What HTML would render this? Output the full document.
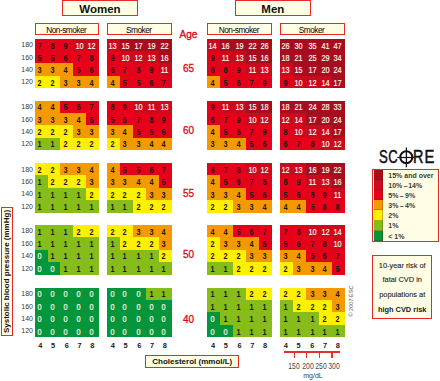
<!DOCTYPE html>
<html><head><meta charset="utf-8">
<style>
html,body{margin:0;padding:0;background:#fff;}
body{width:440px;height:381px;position:relative;overflow:hidden;font-family:"Liberation Sans",sans-serif;}
.c{position:absolute;}
.t{position:absolute;width:12.92px;height:12.35px;line-height:12.35px;text-align:center;font-weight:bold;font-size:8.3px;letter-spacing:-0.2px;transform:scaleX(0.88);}
.bp{position:absolute;left:19px;width:14px;text-align:right;height:12.35px;line-height:12.35px;font-size:7px;color:#3a3a3a;}
.age{position:absolute;left:178px;width:21px;text-align:center;font-size:10px;color:#e3061b;line-height:12px;-webkit-text-stroke:0.3px #e3061b;}
.ch{position:absolute;top:340.8px;width:12.92px;text-align:center;font-size:7.4px;font-weight:bold;color:#1a1a1a;line-height:10px;}
.box{position:absolute;border:1.3px solid #e92a24;background:#fffde3;box-sizing:border-box;}
.hdr{font-weight:bold;font-size:11.5px;color:#111;text-align:center;}
.sub{font-size:8.3px;color:#000;text-align:center;letter-spacing:-0.5px;padding-top:1.0px;padding-right:1.4px;}

.ylab{position:absolute;left:7px;top:271px;width:0;height:0;}
.ylab{position:absolute;left:-56.5px;top:265.5px;width:124px;height:11px;line-height:11px;text-align:center;transform:rotate(-90deg);font-size:8px;font-weight:bold;color:#111;white-space:nowrap;}
.chol{position:absolute;left:145.2px;top:356.4px;width:94.2px;height:12.4px;line-height:12.4px;text-align:center;font-size:8px;font-weight:bold;color:#111;white-space:nowrap;}
.tick{position:absolute;top:352px;width:1.3px;height:5.5px;background:#e8302c;}
.mg{position:absolute;top:361.4px;width:20px;text-align:center;font-size:8.3px;color:#444;line-height:10px;transform:scaleX(0.82);}
.mgdl{position:absolute;left:298px;top:370.6px;width:30px;text-align:center;font-size:8px;color:#444;line-height:10px;transform:scaleX(0.88);}
.copy{position:absolute;left:331px;top:298.4px;width:40px;height:6px;line-height:6px;text-align:center;font-size:5.6px;color:#555;transform:rotate(-90deg);white-space:nowrap;}
.score{position:absolute;left:378px;top:146px;font-size:16.5px;line-height:20px;color:#111;letter-spacing:-0.8px;white-space:nowrap;}
.sw{position:absolute;left:373.6px;width:9.8px;height:10.4px;box-shadow:inset 0 -0.6px 0 rgba(90,20,0,0.45),inset -0.6px 0 0 rgba(90,20,0,0.45);}
.lg{position:absolute;left:388.3px;height:10.1px;line-height:10.1px;font-size:7px;font-weight:bold;color:#3a3a3a;white-space:nowrap;padding-top:1px;}
.info b{-webkit-text-stroke:0;}
.info{font-size:7.4px;line-height:14.7px;color:#1a1a1a;-webkit-text-stroke:0.1px #1a1a1a;text-align:center;padding-top:2.6px;white-space:nowrap;}
</style></head><body>
<div class="box hdr" style="left:62px;top:0.3px;width:76px;height:15.4px;line-height:16.4px;">Women</div>
<div class="box hdr" style="left:234.8px;top:0.3px;width:76px;height:15.4px;line-height:16.4px;">Men</div>
<div class="box sub" style="left:34.8px;top:23.0px;width:64.3px;height:12.3px;line-height:10px;">Non-smoker</div>
<div class="box sub" style="left:107.2px;top:23.0px;width:64.6px;height:12.3px;line-height:10px;">Smoker</div>
<div class="box sub" style="left:207.3px;top:23.0px;width:64.5px;height:12.3px;line-height:10px;">Non-smoker</div>
<div class="box sub" style="left:280.0px;top:23.0px;width:64.6px;height:12.3px;line-height:10px;">Smoker</div>
<div class="age" style="top:28.8px;font-size:10px;-webkit-text-stroke:0.35px #e2041b;">Age</div>
<div class="c" style="left:34.60px;top:38.70px;width:13.22px;height:12.65px;background:#e6011b"></div>
<div class="c" style="left:47.52px;top:38.70px;width:13.22px;height:12.65px;background:#e6011b"></div>
<div class="c" style="left:60.44px;top:38.70px;width:13.22px;height:12.65px;background:#e6011b"></div>
<div class="c" style="left:73.36px;top:38.70px;width:13.22px;height:12.65px;background:#cb0a1e"></div>
<div class="c" style="left:86.28px;top:38.70px;width:12.92px;height:12.65px;background:#cb0a1e"></div>
<div class="c" style="left:34.60px;top:51.05px;width:13.22px;height:12.65px;background:#e6011b"></div>
<div class="c" style="left:47.52px;top:51.05px;width:13.22px;height:12.65px;background:#e6011b"></div>
<div class="c" style="left:60.44px;top:51.05px;width:13.22px;height:12.65px;background:#e6011b"></div>
<div class="c" style="left:73.36px;top:51.05px;width:13.22px;height:12.65px;background:#e6011b"></div>
<div class="c" style="left:86.28px;top:51.05px;width:12.92px;height:12.65px;background:#e6011b"></div>
<div class="c" style="left:34.60px;top:63.40px;width:13.22px;height:12.65px;background:#f59900"></div>
<div class="c" style="left:47.52px;top:63.40px;width:13.22px;height:12.65px;background:#f59900"></div>
<div class="c" style="left:60.44px;top:63.40px;width:13.22px;height:12.65px;background:#f59900"></div>
<div class="c" style="left:73.36px;top:63.40px;width:13.22px;height:12.65px;background:#e6011b"></div>
<div class="c" style="left:86.28px;top:63.40px;width:12.92px;height:12.65px;background:#e6011b"></div>
<div class="c" style="left:34.60px;top:75.75px;width:13.22px;height:12.35px;background:#fff000"></div>
<div class="c" style="left:47.52px;top:75.75px;width:13.22px;height:12.35px;background:#fff000"></div>
<div class="c" style="left:60.44px;top:75.75px;width:13.22px;height:12.35px;background:#f59900"></div>
<div class="c" style="left:73.36px;top:75.75px;width:13.22px;height:12.35px;background:#f59900"></div>
<div class="c" style="left:86.28px;top:75.75px;width:12.92px;height:12.35px;background:#f59900"></div>
<div class="t" style="left:33.00px;top:39.50px;color:#1a1a1a">7</div>
<div class="t" style="left:45.72px;top:39.50px;color:#1a1a1a">8</div>
<div class="t" style="left:59.44px;top:39.50px;color:#1a1a1a">9</div>
<div class="t" style="left:72.76px;top:39.50px;color:#fff8f0;font-weight:normal;-webkit-text-stroke:0.15px #fff8f0">10</div>
<div class="t" style="left:85.48px;top:39.50px;color:#fff8f0;font-weight:normal;-webkit-text-stroke:0.15px #fff8f0">12</div>
<div class="t" style="left:33.00px;top:51.85px;color:#1a1a1a">5</div>
<div class="t" style="left:45.72px;top:51.85px;color:#1a1a1a">5</div>
<div class="t" style="left:59.44px;top:51.85px;color:#1a1a1a">6</div>
<div class="t" style="left:72.26px;top:51.85px;color:#1a1a1a">7</div>
<div class="t" style="left:84.98px;top:51.85px;color:#1a1a1a">8</div>
<div class="t" style="left:33.00px;top:64.20px;color:#1a1a1a">3</div>
<div class="t" style="left:45.72px;top:64.20px;color:#1a1a1a">3</div>
<div class="t" style="left:59.44px;top:64.20px;color:#1a1a1a">4</div>
<div class="t" style="left:72.26px;top:64.20px;color:#1a1a1a">5</div>
<div class="t" style="left:84.98px;top:64.20px;color:#1a1a1a">6</div>
<div class="t" style="left:33.00px;top:76.55px;color:#1a1a1a">2</div>
<div class="t" style="left:45.72px;top:76.55px;color:#1a1a1a">2</div>
<div class="t" style="left:59.44px;top:76.55px;color:#1a1a1a">3</div>
<div class="t" style="left:72.26px;top:76.55px;color:#1a1a1a">3</div>
<div class="t" style="left:84.98px;top:76.55px;color:#1a1a1a">4</div>
<div class="c" style="left:107.10px;top:38.70px;width:13.22px;height:12.65px;background:#cb0a1e"></div>
<div class="c" style="left:120.02px;top:38.70px;width:13.22px;height:12.65px;background:#a60e1f"></div>
<div class="c" style="left:132.94px;top:38.70px;width:13.22px;height:12.65px;background:#a60e1f"></div>
<div class="c" style="left:145.86px;top:38.70px;width:13.22px;height:12.65px;background:#a60e1f"></div>
<div class="c" style="left:158.78px;top:38.70px;width:12.92px;height:12.65px;background:#a60e1f"></div>
<div class="c" style="left:107.10px;top:51.05px;width:13.22px;height:12.65px;background:#e6011b"></div>
<div class="c" style="left:120.02px;top:51.05px;width:13.22px;height:12.65px;background:#cb0a1e"></div>
<div class="c" style="left:132.94px;top:51.05px;width:13.22px;height:12.65px;background:#cb0a1e"></div>
<div class="c" style="left:145.86px;top:51.05px;width:13.22px;height:12.65px;background:#cb0a1e"></div>
<div class="c" style="left:158.78px;top:51.05px;width:12.92px;height:12.65px;background:#a60e1f"></div>
<div class="c" style="left:107.10px;top:63.40px;width:13.22px;height:12.65px;background:#e6011b"></div>
<div class="c" style="left:120.02px;top:63.40px;width:13.22px;height:12.65px;background:#e6011b"></div>
<div class="c" style="left:132.94px;top:63.40px;width:13.22px;height:12.65px;background:#e6011b"></div>
<div class="c" style="left:145.86px;top:63.40px;width:13.22px;height:12.65px;background:#e6011b"></div>
<div class="c" style="left:158.78px;top:63.40px;width:12.92px;height:12.65px;background:#cb0a1e"></div>
<div class="c" style="left:107.10px;top:75.75px;width:13.22px;height:12.35px;background:#f59900"></div>
<div class="c" style="left:120.02px;top:75.75px;width:13.22px;height:12.35px;background:#e6011b"></div>
<div class="c" style="left:132.94px;top:75.75px;width:13.22px;height:12.35px;background:#e6011b"></div>
<div class="c" style="left:145.86px;top:75.75px;width:13.22px;height:12.35px;background:#e6011b"></div>
<div class="c" style="left:158.78px;top:75.75px;width:12.92px;height:12.35px;background:#e6011b"></div>
<div class="t" style="left:106.00px;top:39.50px;color:#fff8f0;font-weight:normal;-webkit-text-stroke:0.15px #fff8f0">13</div>
<div class="t" style="left:118.72px;top:39.50px;color:#fff8f0;font-weight:normal;-webkit-text-stroke:0.15px #fff8f0">15</div>
<div class="t" style="left:132.44px;top:39.50px;color:#fff8f0;font-weight:normal;-webkit-text-stroke:0.15px #fff8f0">17</div>
<div class="t" style="left:145.26px;top:39.50px;color:#fff8f0;font-weight:normal;-webkit-text-stroke:0.15px #fff8f0">19</div>
<div class="t" style="left:157.98px;top:39.50px;color:#fff8f0;font-weight:normal;-webkit-text-stroke:0.15px #fff8f0">22</div>
<div class="t" style="left:105.50px;top:51.85px;color:#1a1a1a">9</div>
<div class="t" style="left:118.72px;top:51.85px;color:#fff8f0;font-weight:normal;-webkit-text-stroke:0.15px #fff8f0">10</div>
<div class="t" style="left:132.44px;top:51.85px;color:#fff8f0;font-weight:normal;-webkit-text-stroke:0.15px #fff8f0">12</div>
<div class="t" style="left:145.26px;top:51.85px;color:#fff8f0;font-weight:normal;-webkit-text-stroke:0.15px #fff8f0">13</div>
<div class="t" style="left:157.98px;top:51.85px;color:#fff8f0;font-weight:normal;-webkit-text-stroke:0.15px #fff8f0">16</div>
<div class="t" style="left:105.50px;top:64.20px;color:#1a1a1a">6</div>
<div class="t" style="left:118.22px;top:64.20px;color:#1a1a1a">7</div>
<div class="t" style="left:131.94px;top:64.20px;color:#1a1a1a">8</div>
<div class="t" style="left:144.76px;top:64.20px;color:#1a1a1a">9</div>
<div class="t" style="left:157.98px;top:64.20px;color:#fff8f0;font-weight:normal;-webkit-text-stroke:0.15px #fff8f0">11</div>
<div class="t" style="left:105.50px;top:76.55px;color:#1a1a1a">4</div>
<div class="t" style="left:118.22px;top:76.55px;color:#1a1a1a">5</div>
<div class="t" style="left:131.94px;top:76.55px;color:#1a1a1a">5</div>
<div class="t" style="left:144.76px;top:76.55px;color:#1a1a1a">6</div>
<div class="t" style="left:157.48px;top:76.55px;color:#1a1a1a">7</div>
<div class="c" style="left:207.40px;top:38.70px;width:13.22px;height:12.65px;background:#cb0a1e"></div>
<div class="c" style="left:220.32px;top:38.70px;width:13.22px;height:12.65px;background:#a60e1f"></div>
<div class="c" style="left:233.24px;top:38.70px;width:13.22px;height:12.65px;background:#a60e1f"></div>
<div class="c" style="left:246.16px;top:38.70px;width:13.22px;height:12.65px;background:#a60e1f"></div>
<div class="c" style="left:259.08px;top:38.70px;width:12.92px;height:12.65px;background:#a60e1f"></div>
<div class="c" style="left:207.40px;top:51.05px;width:13.22px;height:12.65px;background:#e6011b"></div>
<div class="c" style="left:220.32px;top:51.05px;width:13.22px;height:12.65px;background:#cb0a1e"></div>
<div class="c" style="left:233.24px;top:51.05px;width:13.22px;height:12.65px;background:#cb0a1e"></div>
<div class="c" style="left:246.16px;top:51.05px;width:13.22px;height:12.65px;background:#a60e1f"></div>
<div class="c" style="left:259.08px;top:51.05px;width:12.92px;height:12.65px;background:#a60e1f"></div>
<div class="c" style="left:207.40px;top:63.40px;width:13.22px;height:12.65px;background:#e6011b"></div>
<div class="c" style="left:220.32px;top:63.40px;width:13.22px;height:12.65px;background:#e6011b"></div>
<div class="c" style="left:233.24px;top:63.40px;width:13.22px;height:12.65px;background:#e6011b"></div>
<div class="c" style="left:246.16px;top:63.40px;width:13.22px;height:12.65px;background:#cb0a1e"></div>
<div class="c" style="left:259.08px;top:63.40px;width:12.92px;height:12.65px;background:#cb0a1e"></div>
<div class="c" style="left:207.40px;top:75.75px;width:13.22px;height:12.35px;background:#f59900"></div>
<div class="c" style="left:220.32px;top:75.75px;width:13.22px;height:12.35px;background:#e6011b"></div>
<div class="c" style="left:233.24px;top:75.75px;width:13.22px;height:12.35px;background:#e6011b"></div>
<div class="c" style="left:246.16px;top:75.75px;width:13.22px;height:12.35px;background:#e6011b"></div>
<div class="c" style="left:259.08px;top:75.75px;width:12.92px;height:12.35px;background:#e6011b"></div>
<div class="t" style="left:206.40px;top:39.50px;color:#fff8f0;font-weight:normal;-webkit-text-stroke:0.15px #fff8f0">14</div>
<div class="t" style="left:219.12px;top:39.50px;color:#fff8f0;font-weight:normal;-webkit-text-stroke:0.15px #fff8f0">16</div>
<div class="t" style="left:232.84px;top:39.50px;color:#fff8f0;font-weight:normal;-webkit-text-stroke:0.15px #fff8f0">19</div>
<div class="t" style="left:245.66px;top:39.50px;color:#fff8f0;font-weight:normal;-webkit-text-stroke:0.15px #fff8f0">22</div>
<div class="t" style="left:258.38px;top:39.50px;color:#fff8f0;font-weight:normal;-webkit-text-stroke:0.15px #fff8f0">26</div>
<div class="t" style="left:205.90px;top:51.85px;color:#1a1a1a">9</div>
<div class="t" style="left:219.12px;top:51.85px;color:#fff8f0;font-weight:normal;-webkit-text-stroke:0.15px #fff8f0">11</div>
<div class="t" style="left:232.84px;top:51.85px;color:#fff8f0;font-weight:normal;-webkit-text-stroke:0.15px #fff8f0">13</div>
<div class="t" style="left:245.66px;top:51.85px;color:#fff8f0;font-weight:normal;-webkit-text-stroke:0.15px #fff8f0">15</div>
<div class="t" style="left:258.38px;top:51.85px;color:#fff8f0;font-weight:normal;-webkit-text-stroke:0.15px #fff8f0">16</div>
<div class="t" style="left:205.90px;top:64.20px;color:#1a1a1a">6</div>
<div class="t" style="left:218.62px;top:64.20px;color:#1a1a1a">8</div>
<div class="t" style="left:232.34px;top:64.20px;color:#1a1a1a">9</div>
<div class="t" style="left:245.66px;top:64.20px;color:#fff8f0;font-weight:normal;-webkit-text-stroke:0.15px #fff8f0">11</div>
<div class="t" style="left:258.38px;top:64.20px;color:#fff8f0;font-weight:normal;-webkit-text-stroke:0.15px #fff8f0">13</div>
<div class="t" style="left:205.90px;top:76.55px;color:#1a1a1a">4</div>
<div class="t" style="left:218.62px;top:76.55px;color:#1a1a1a">5</div>
<div class="t" style="left:232.34px;top:76.55px;color:#1a1a1a">6</div>
<div class="t" style="left:245.16px;top:76.55px;color:#1a1a1a">7</div>
<div class="t" style="left:257.88px;top:76.55px;color:#1a1a1a">9</div>
<div class="c" style="left:280.00px;top:38.70px;width:13.22px;height:12.65px;background:#a60e1f"></div>
<div class="c" style="left:292.92px;top:38.70px;width:13.22px;height:12.65px;background:#a60e1f"></div>
<div class="c" style="left:305.84px;top:38.70px;width:13.22px;height:12.65px;background:#a60e1f"></div>
<div class="c" style="left:318.76px;top:38.70px;width:13.22px;height:12.65px;background:#a60e1f"></div>
<div class="c" style="left:331.68px;top:38.70px;width:12.92px;height:12.65px;background:#a60e1f"></div>
<div class="c" style="left:280.00px;top:51.05px;width:13.22px;height:12.65px;background:#a60e1f"></div>
<div class="c" style="left:292.92px;top:51.05px;width:13.22px;height:12.65px;background:#a60e1f"></div>
<div class="c" style="left:305.84px;top:51.05px;width:13.22px;height:12.65px;background:#a60e1f"></div>
<div class="c" style="left:318.76px;top:51.05px;width:13.22px;height:12.65px;background:#a60e1f"></div>
<div class="c" style="left:331.68px;top:51.05px;width:12.92px;height:12.65px;background:#a60e1f"></div>
<div class="c" style="left:280.00px;top:63.40px;width:13.22px;height:12.65px;background:#cb0a1e"></div>
<div class="c" style="left:292.92px;top:63.40px;width:13.22px;height:12.65px;background:#a60e1f"></div>
<div class="c" style="left:305.84px;top:63.40px;width:13.22px;height:12.65px;background:#a60e1f"></div>
<div class="c" style="left:318.76px;top:63.40px;width:13.22px;height:12.65px;background:#a60e1f"></div>
<div class="c" style="left:331.68px;top:63.40px;width:12.92px;height:12.65px;background:#a60e1f"></div>
<div class="c" style="left:280.00px;top:75.75px;width:13.22px;height:12.35px;background:#e6011b"></div>
<div class="c" style="left:292.92px;top:75.75px;width:13.22px;height:12.35px;background:#cb0a1e"></div>
<div class="c" style="left:305.84px;top:75.75px;width:13.22px;height:12.35px;background:#cb0a1e"></div>
<div class="c" style="left:318.76px;top:75.75px;width:13.22px;height:12.35px;background:#cb0a1e"></div>
<div class="c" style="left:331.68px;top:75.75px;width:12.92px;height:12.35px;background:#a60e1f"></div>
<div class="t" style="left:279.30px;top:39.50px;color:#fff8f0;font-weight:normal;-webkit-text-stroke:0.15px #fff8f0">26</div>
<div class="t" style="left:292.02px;top:39.50px;color:#fff8f0;font-weight:normal;-webkit-text-stroke:0.15px #fff8f0">30</div>
<div class="t" style="left:305.74px;top:39.50px;color:#fff8f0;font-weight:normal;-webkit-text-stroke:0.15px #fff8f0">35</div>
<div class="t" style="left:318.56px;top:39.50px;color:#fff8f0;font-weight:normal;-webkit-text-stroke:0.15px #fff8f0">41</div>
<div class="t" style="left:331.28px;top:39.50px;color:#fff8f0;font-weight:normal;-webkit-text-stroke:0.15px #fff8f0">47</div>
<div class="t" style="left:279.30px;top:51.85px;color:#fff8f0;font-weight:normal;-webkit-text-stroke:0.15px #fff8f0">18</div>
<div class="t" style="left:292.02px;top:51.85px;color:#fff8f0;font-weight:normal;-webkit-text-stroke:0.15px #fff8f0">21</div>
<div class="t" style="left:305.74px;top:51.85px;color:#fff8f0;font-weight:normal;-webkit-text-stroke:0.15px #fff8f0">25</div>
<div class="t" style="left:318.56px;top:51.85px;color:#fff8f0;font-weight:normal;-webkit-text-stroke:0.15px #fff8f0">29</div>
<div class="t" style="left:331.28px;top:51.85px;color:#fff8f0;font-weight:normal;-webkit-text-stroke:0.15px #fff8f0">34</div>
<div class="t" style="left:279.30px;top:64.20px;color:#fff8f0;font-weight:normal;-webkit-text-stroke:0.15px #fff8f0">13</div>
<div class="t" style="left:292.02px;top:64.20px;color:#fff8f0;font-weight:normal;-webkit-text-stroke:0.15px #fff8f0">15</div>
<div class="t" style="left:305.74px;top:64.20px;color:#fff8f0;font-weight:normal;-webkit-text-stroke:0.15px #fff8f0">17</div>
<div class="t" style="left:318.56px;top:64.20px;color:#fff8f0;font-weight:normal;-webkit-text-stroke:0.15px #fff8f0">20</div>
<div class="t" style="left:331.28px;top:64.20px;color:#fff8f0;font-weight:normal;-webkit-text-stroke:0.15px #fff8f0">24</div>
<div class="t" style="left:279.10px;top:76.55px;color:#1a1a1a">9</div>
<div class="t" style="left:292.02px;top:76.55px;color:#fff8f0;font-weight:normal;-webkit-text-stroke:0.15px #fff8f0">10</div>
<div class="t" style="left:305.74px;top:76.55px;color:#fff8f0;font-weight:normal;-webkit-text-stroke:0.15px #fff8f0">12</div>
<div class="t" style="left:318.56px;top:76.55px;color:#fff8f0;font-weight:normal;-webkit-text-stroke:0.15px #fff8f0">14</div>
<div class="t" style="left:331.28px;top:76.55px;color:#fff8f0;font-weight:normal;-webkit-text-stroke:0.15px #fff8f0">17</div>
<div class="bp" style="top:39.40px">180</div>
<div class="bp" style="top:51.75px">160</div>
<div class="bp" style="top:64.10px">140</div>
<div class="bp" style="top:76.45px">120</div>
<div class="age" style="top:63.00px">65</div>
<div class="c" style="left:34.60px;top:100.60px;width:13.22px;height:12.62px;background:#f59900"></div>
<div class="c" style="left:47.52px;top:100.60px;width:13.22px;height:12.62px;background:#f59900"></div>
<div class="c" style="left:60.44px;top:100.60px;width:13.22px;height:12.62px;background:#e6011b"></div>
<div class="c" style="left:73.36px;top:100.60px;width:13.22px;height:12.62px;background:#e6011b"></div>
<div class="c" style="left:86.28px;top:100.60px;width:12.92px;height:12.62px;background:#e6011b"></div>
<div class="c" style="left:34.60px;top:112.92px;width:13.22px;height:12.62px;background:#f59900"></div>
<div class="c" style="left:47.52px;top:112.92px;width:13.22px;height:12.62px;background:#f59900"></div>
<div class="c" style="left:60.44px;top:112.92px;width:13.22px;height:12.62px;background:#f59900"></div>
<div class="c" style="left:73.36px;top:112.92px;width:13.22px;height:12.62px;background:#f59900"></div>
<div class="c" style="left:86.28px;top:112.92px;width:12.92px;height:12.62px;background:#e6011b"></div>
<div class="c" style="left:34.60px;top:125.25px;width:13.22px;height:12.62px;background:#fff000"></div>
<div class="c" style="left:47.52px;top:125.25px;width:13.22px;height:12.62px;background:#fff000"></div>
<div class="c" style="left:60.44px;top:125.25px;width:13.22px;height:12.62px;background:#fff000"></div>
<div class="c" style="left:73.36px;top:125.25px;width:13.22px;height:12.62px;background:#f59900"></div>
<div class="c" style="left:86.28px;top:125.25px;width:12.92px;height:12.62px;background:#f59900"></div>
<div class="c" style="left:34.60px;top:137.57px;width:13.22px;height:12.32px;background:#87bd1b"></div>
<div class="c" style="left:47.52px;top:137.57px;width:13.22px;height:12.32px;background:#87bd1b"></div>
<div class="c" style="left:60.44px;top:137.57px;width:13.22px;height:12.32px;background:#fff000"></div>
<div class="c" style="left:73.36px;top:137.57px;width:13.22px;height:12.32px;background:#fff000"></div>
<div class="c" style="left:86.28px;top:137.57px;width:12.92px;height:12.32px;background:#fff000"></div>
<div class="t" style="left:33.00px;top:101.40px;color:#1a1a1a">4</div>
<div class="t" style="left:45.72px;top:101.40px;color:#1a1a1a">4</div>
<div class="t" style="left:59.44px;top:101.40px;color:#1a1a1a">5</div>
<div class="t" style="left:72.26px;top:101.40px;color:#1a1a1a">6</div>
<div class="t" style="left:84.98px;top:101.40px;color:#1a1a1a">7</div>
<div class="t" style="left:33.00px;top:113.72px;color:#1a1a1a">3</div>
<div class="t" style="left:45.72px;top:113.72px;color:#1a1a1a">3</div>
<div class="t" style="left:59.44px;top:113.72px;color:#1a1a1a">3</div>
<div class="t" style="left:72.26px;top:113.72px;color:#1a1a1a">4</div>
<div class="t" style="left:84.98px;top:113.72px;color:#1a1a1a">5</div>
<div class="t" style="left:33.00px;top:126.05px;color:#1a1a1a">2</div>
<div class="t" style="left:45.72px;top:126.05px;color:#1a1a1a">2</div>
<div class="t" style="left:59.44px;top:126.05px;color:#1a1a1a">2</div>
<div class="t" style="left:72.26px;top:126.05px;color:#1a1a1a">3</div>
<div class="t" style="left:84.98px;top:126.05px;color:#1a1a1a">3</div>
<div class="t" style="left:33.00px;top:138.38px;color:#1a1a1a">1</div>
<div class="t" style="left:45.72px;top:138.38px;color:#1a1a1a">1</div>
<div class="t" style="left:59.44px;top:138.38px;color:#1a1a1a">2</div>
<div class="t" style="left:72.26px;top:138.38px;color:#1a1a1a">2</div>
<div class="t" style="left:84.98px;top:138.38px;color:#1a1a1a">2</div>
<div class="c" style="left:107.10px;top:100.60px;width:13.22px;height:12.62px;background:#e6011b"></div>
<div class="c" style="left:120.02px;top:100.60px;width:13.22px;height:12.62px;background:#e6011b"></div>
<div class="c" style="left:132.94px;top:100.60px;width:13.22px;height:12.62px;background:#cb0a1e"></div>
<div class="c" style="left:145.86px;top:100.60px;width:13.22px;height:12.62px;background:#cb0a1e"></div>
<div class="c" style="left:158.78px;top:100.60px;width:12.92px;height:12.62px;background:#cb0a1e"></div>
<div class="c" style="left:107.10px;top:112.92px;width:13.22px;height:12.62px;background:#e6011b"></div>
<div class="c" style="left:120.02px;top:112.92px;width:13.22px;height:12.62px;background:#e6011b"></div>
<div class="c" style="left:132.94px;top:112.92px;width:13.22px;height:12.62px;background:#e6011b"></div>
<div class="c" style="left:145.86px;top:112.92px;width:13.22px;height:12.62px;background:#e6011b"></div>
<div class="c" style="left:158.78px;top:112.92px;width:12.92px;height:12.62px;background:#e6011b"></div>
<div class="c" style="left:107.10px;top:125.25px;width:13.22px;height:12.62px;background:#f59900"></div>
<div class="c" style="left:120.02px;top:125.25px;width:13.22px;height:12.62px;background:#f59900"></div>
<div class="c" style="left:132.94px;top:125.25px;width:13.22px;height:12.62px;background:#e6011b"></div>
<div class="c" style="left:145.86px;top:125.25px;width:13.22px;height:12.62px;background:#e6011b"></div>
<div class="c" style="left:158.78px;top:125.25px;width:12.92px;height:12.62px;background:#e6011b"></div>
<div class="c" style="left:107.10px;top:137.57px;width:13.22px;height:12.32px;background:#fff000"></div>
<div class="c" style="left:120.02px;top:137.57px;width:13.22px;height:12.32px;background:#f59900"></div>
<div class="c" style="left:132.94px;top:137.57px;width:13.22px;height:12.32px;background:#f59900"></div>
<div class="c" style="left:145.86px;top:137.57px;width:13.22px;height:12.32px;background:#f59900"></div>
<div class="c" style="left:158.78px;top:137.57px;width:12.92px;height:12.32px;background:#f59900"></div>
<div class="t" style="left:105.50px;top:101.40px;color:#1a1a1a">8</div>
<div class="t" style="left:118.22px;top:101.40px;color:#1a1a1a">9</div>
<div class="t" style="left:132.44px;top:101.40px;color:#fff8f0;font-weight:normal;-webkit-text-stroke:0.15px #fff8f0">10</div>
<div class="t" style="left:145.26px;top:101.40px;color:#fff8f0;font-weight:normal;-webkit-text-stroke:0.15px #fff8f0">11</div>
<div class="t" style="left:157.98px;top:101.40px;color:#fff8f0;font-weight:normal;-webkit-text-stroke:0.15px #fff8f0">13</div>
<div class="t" style="left:105.50px;top:113.72px;color:#1a1a1a">5</div>
<div class="t" style="left:118.22px;top:113.72px;color:#1a1a1a">6</div>
<div class="t" style="left:131.94px;top:113.72px;color:#1a1a1a">7</div>
<div class="t" style="left:144.76px;top:113.72px;color:#1a1a1a">8</div>
<div class="t" style="left:157.48px;top:113.72px;color:#1a1a1a">9</div>
<div class="t" style="left:105.50px;top:126.05px;color:#1a1a1a">3</div>
<div class="t" style="left:118.22px;top:126.05px;color:#1a1a1a">4</div>
<div class="t" style="left:131.94px;top:126.05px;color:#1a1a1a">5</div>
<div class="t" style="left:144.76px;top:126.05px;color:#1a1a1a">5</div>
<div class="t" style="left:157.48px;top:126.05px;color:#1a1a1a">6</div>
<div class="t" style="left:105.50px;top:138.38px;color:#1a1a1a">2</div>
<div class="t" style="left:118.22px;top:138.38px;color:#1a1a1a">3</div>
<div class="t" style="left:131.94px;top:138.38px;color:#1a1a1a">3</div>
<div class="t" style="left:144.76px;top:138.38px;color:#1a1a1a">4</div>
<div class="t" style="left:157.48px;top:138.38px;color:#1a1a1a">4</div>
<div class="c" style="left:207.40px;top:100.60px;width:13.22px;height:12.62px;background:#e6011b"></div>
<div class="c" style="left:220.32px;top:100.60px;width:13.22px;height:12.62px;background:#cb0a1e"></div>
<div class="c" style="left:233.24px;top:100.60px;width:13.22px;height:12.62px;background:#cb0a1e"></div>
<div class="c" style="left:246.16px;top:100.60px;width:13.22px;height:12.62px;background:#a60e1f"></div>
<div class="c" style="left:259.08px;top:100.60px;width:12.92px;height:12.62px;background:#a60e1f"></div>
<div class="c" style="left:207.40px;top:112.92px;width:13.22px;height:12.62px;background:#e6011b"></div>
<div class="c" style="left:220.32px;top:112.92px;width:13.22px;height:12.62px;background:#e6011b"></div>
<div class="c" style="left:233.24px;top:112.92px;width:13.22px;height:12.62px;background:#e6011b"></div>
<div class="c" style="left:246.16px;top:112.92px;width:13.22px;height:12.62px;background:#cb0a1e"></div>
<div class="c" style="left:259.08px;top:112.92px;width:12.92px;height:12.62px;background:#cb0a1e"></div>
<div class="c" style="left:207.40px;top:125.25px;width:13.22px;height:12.62px;background:#f59900"></div>
<div class="c" style="left:220.32px;top:125.25px;width:13.22px;height:12.62px;background:#e6011b"></div>
<div class="c" style="left:233.24px;top:125.25px;width:13.22px;height:12.62px;background:#e6011b"></div>
<div class="c" style="left:246.16px;top:125.25px;width:13.22px;height:12.62px;background:#e6011b"></div>
<div class="c" style="left:259.08px;top:125.25px;width:12.92px;height:12.62px;background:#e6011b"></div>
<div class="c" style="left:207.40px;top:137.57px;width:13.22px;height:12.32px;background:#f59900"></div>
<div class="c" style="left:220.32px;top:137.57px;width:13.22px;height:12.32px;background:#f59900"></div>
<div class="c" style="left:233.24px;top:137.57px;width:13.22px;height:12.32px;background:#f59900"></div>
<div class="c" style="left:246.16px;top:137.57px;width:13.22px;height:12.32px;background:#e6011b"></div>
<div class="c" style="left:259.08px;top:137.57px;width:12.92px;height:12.32px;background:#e6011b"></div>
<div class="t" style="left:205.90px;top:101.40px;color:#1a1a1a">9</div>
<div class="t" style="left:219.12px;top:101.40px;color:#fff8f0;font-weight:normal;-webkit-text-stroke:0.15px #fff8f0">11</div>
<div class="t" style="left:232.84px;top:101.40px;color:#fff8f0;font-weight:normal;-webkit-text-stroke:0.15px #fff8f0">13</div>
<div class="t" style="left:245.66px;top:101.40px;color:#fff8f0;font-weight:normal;-webkit-text-stroke:0.15px #fff8f0">15</div>
<div class="t" style="left:258.38px;top:101.40px;color:#fff8f0;font-weight:normal;-webkit-text-stroke:0.15px #fff8f0">18</div>
<div class="t" style="left:205.90px;top:113.72px;color:#1a1a1a">6</div>
<div class="t" style="left:218.62px;top:113.72px;color:#1a1a1a">7</div>
<div class="t" style="left:232.34px;top:113.72px;color:#1a1a1a">9</div>
<div class="t" style="left:245.66px;top:113.72px;color:#fff8f0;font-weight:normal;-webkit-text-stroke:0.15px #fff8f0">10</div>
<div class="t" style="left:258.38px;top:113.72px;color:#fff8f0;font-weight:normal;-webkit-text-stroke:0.15px #fff8f0">12</div>
<div class="t" style="left:205.90px;top:126.05px;color:#1a1a1a">4</div>
<div class="t" style="left:218.62px;top:126.05px;color:#1a1a1a">5</div>
<div class="t" style="left:232.34px;top:126.05px;color:#1a1a1a">6</div>
<div class="t" style="left:245.16px;top:126.05px;color:#1a1a1a">7</div>
<div class="t" style="left:257.88px;top:126.05px;color:#1a1a1a">9</div>
<div class="t" style="left:205.90px;top:138.38px;color:#1a1a1a">3</div>
<div class="t" style="left:218.62px;top:138.38px;color:#1a1a1a">3</div>
<div class="t" style="left:232.34px;top:138.38px;color:#1a1a1a">4</div>
<div class="t" style="left:245.16px;top:138.38px;color:#1a1a1a">5</div>
<div class="t" style="left:257.88px;top:138.38px;color:#1a1a1a">6</div>
<div class="c" style="left:280.00px;top:100.60px;width:13.22px;height:12.62px;background:#a60e1f"></div>
<div class="c" style="left:292.92px;top:100.60px;width:13.22px;height:12.62px;background:#a60e1f"></div>
<div class="c" style="left:305.84px;top:100.60px;width:13.22px;height:12.62px;background:#a60e1f"></div>
<div class="c" style="left:318.76px;top:100.60px;width:13.22px;height:12.62px;background:#a60e1f"></div>
<div class="c" style="left:331.68px;top:100.60px;width:12.92px;height:12.62px;background:#a60e1f"></div>
<div class="c" style="left:280.00px;top:112.92px;width:13.22px;height:12.62px;background:#cb0a1e"></div>
<div class="c" style="left:292.92px;top:112.92px;width:13.22px;height:12.62px;background:#cb0a1e"></div>
<div class="c" style="left:305.84px;top:112.92px;width:13.22px;height:12.62px;background:#a60e1f"></div>
<div class="c" style="left:318.76px;top:112.92px;width:13.22px;height:12.62px;background:#a60e1f"></div>
<div class="c" style="left:331.68px;top:112.92px;width:12.92px;height:12.62px;background:#a60e1f"></div>
<div class="c" style="left:280.00px;top:125.25px;width:13.22px;height:12.62px;background:#e6011b"></div>
<div class="c" style="left:292.92px;top:125.25px;width:13.22px;height:12.62px;background:#cb0a1e"></div>
<div class="c" style="left:305.84px;top:125.25px;width:13.22px;height:12.62px;background:#cb0a1e"></div>
<div class="c" style="left:318.76px;top:125.25px;width:13.22px;height:12.62px;background:#cb0a1e"></div>
<div class="c" style="left:331.68px;top:125.25px;width:12.92px;height:12.62px;background:#a60e1f"></div>
<div class="c" style="left:280.00px;top:137.57px;width:13.22px;height:12.32px;background:#e6011b"></div>
<div class="c" style="left:292.92px;top:137.57px;width:13.22px;height:12.32px;background:#e6011b"></div>
<div class="c" style="left:305.84px;top:137.57px;width:13.22px;height:12.32px;background:#e6011b"></div>
<div class="c" style="left:318.76px;top:137.57px;width:13.22px;height:12.32px;background:#cb0a1e"></div>
<div class="c" style="left:331.68px;top:137.57px;width:12.92px;height:12.32px;background:#cb0a1e"></div>
<div class="t" style="left:279.30px;top:101.40px;color:#fff8f0;font-weight:normal;-webkit-text-stroke:0.15px #fff8f0">18</div>
<div class="t" style="left:292.02px;top:101.40px;color:#fff8f0;font-weight:normal;-webkit-text-stroke:0.15px #fff8f0">21</div>
<div class="t" style="left:305.74px;top:101.40px;color:#fff8f0;font-weight:normal;-webkit-text-stroke:0.15px #fff8f0">24</div>
<div class="t" style="left:318.56px;top:101.40px;color:#fff8f0;font-weight:normal;-webkit-text-stroke:0.15px #fff8f0">28</div>
<div class="t" style="left:331.28px;top:101.40px;color:#fff8f0;font-weight:normal;-webkit-text-stroke:0.15px #fff8f0">33</div>
<div class="t" style="left:279.30px;top:113.72px;color:#fff8f0;font-weight:normal;-webkit-text-stroke:0.15px #fff8f0">12</div>
<div class="t" style="left:292.02px;top:113.72px;color:#fff8f0;font-weight:normal;-webkit-text-stroke:0.15px #fff8f0">14</div>
<div class="t" style="left:305.74px;top:113.72px;color:#fff8f0;font-weight:normal;-webkit-text-stroke:0.15px #fff8f0">17</div>
<div class="t" style="left:318.56px;top:113.72px;color:#fff8f0;font-weight:normal;-webkit-text-stroke:0.15px #fff8f0">20</div>
<div class="t" style="left:331.28px;top:113.72px;color:#fff8f0;font-weight:normal;-webkit-text-stroke:0.15px #fff8f0">24</div>
<div class="t" style="left:279.10px;top:126.05px;color:#1a1a1a">8</div>
<div class="t" style="left:292.02px;top:126.05px;color:#fff8f0;font-weight:normal;-webkit-text-stroke:0.15px #fff8f0">10</div>
<div class="t" style="left:305.74px;top:126.05px;color:#fff8f0;font-weight:normal;-webkit-text-stroke:0.15px #fff8f0">12</div>
<div class="t" style="left:318.56px;top:126.05px;color:#fff8f0;font-weight:normal;-webkit-text-stroke:0.15px #fff8f0">14</div>
<div class="t" style="left:331.28px;top:126.05px;color:#fff8f0;font-weight:normal;-webkit-text-stroke:0.15px #fff8f0">17</div>
<div class="t" style="left:279.10px;top:138.38px;color:#1a1a1a">6</div>
<div class="t" style="left:291.82px;top:138.38px;color:#1a1a1a">7</div>
<div class="t" style="left:305.54px;top:138.38px;color:#1a1a1a">8</div>
<div class="t" style="left:318.56px;top:138.38px;color:#fff8f0;font-weight:normal;-webkit-text-stroke:0.15px #fff8f0">10</div>
<div class="t" style="left:331.28px;top:138.38px;color:#fff8f0;font-weight:normal;-webkit-text-stroke:0.15px #fff8f0">12</div>
<div class="bp" style="top:101.30px">180</div>
<div class="bp" style="top:113.62px">160</div>
<div class="bp" style="top:125.95px">140</div>
<div class="bp" style="top:138.27px">120</div>
<div class="age" style="top:125.00px">60</div>
<div class="c" style="left:34.60px;top:162.80px;width:13.22px;height:12.78px;background:#fff000"></div>
<div class="c" style="left:47.52px;top:162.80px;width:13.22px;height:12.78px;background:#fff000"></div>
<div class="c" style="left:60.44px;top:162.80px;width:13.22px;height:12.78px;background:#f59900"></div>
<div class="c" style="left:73.36px;top:162.80px;width:13.22px;height:12.78px;background:#f59900"></div>
<div class="c" style="left:86.28px;top:162.80px;width:12.92px;height:12.78px;background:#f59900"></div>
<div class="c" style="left:34.60px;top:175.28px;width:13.22px;height:12.78px;background:#87bd1b"></div>
<div class="c" style="left:47.52px;top:175.28px;width:13.22px;height:12.78px;background:#fff000"></div>
<div class="c" style="left:60.44px;top:175.28px;width:13.22px;height:12.78px;background:#fff000"></div>
<div class="c" style="left:73.36px;top:175.28px;width:13.22px;height:12.78px;background:#fff000"></div>
<div class="c" style="left:86.28px;top:175.28px;width:12.92px;height:12.78px;background:#f59900"></div>
<div class="c" style="left:34.60px;top:187.75px;width:13.22px;height:12.78px;background:#87bd1b"></div>
<div class="c" style="left:47.52px;top:187.75px;width:13.22px;height:12.78px;background:#87bd1b"></div>
<div class="c" style="left:60.44px;top:187.75px;width:13.22px;height:12.78px;background:#87bd1b"></div>
<div class="c" style="left:73.36px;top:187.75px;width:13.22px;height:12.78px;background:#87bd1b"></div>
<div class="c" style="left:86.28px;top:187.75px;width:12.92px;height:12.78px;background:#fff000"></div>
<div class="c" style="left:34.60px;top:200.23px;width:13.22px;height:12.47px;background:#87bd1b"></div>
<div class="c" style="left:47.52px;top:200.23px;width:13.22px;height:12.47px;background:#87bd1b"></div>
<div class="c" style="left:60.44px;top:200.23px;width:13.22px;height:12.47px;background:#87bd1b"></div>
<div class="c" style="left:73.36px;top:200.23px;width:13.22px;height:12.47px;background:#87bd1b"></div>
<div class="c" style="left:86.28px;top:200.23px;width:12.92px;height:12.47px;background:#87bd1b"></div>
<div class="t" style="left:33.00px;top:163.60px;color:#1a1a1a">2</div>
<div class="t" style="left:45.72px;top:163.60px;color:#1a1a1a">2</div>
<div class="t" style="left:59.44px;top:163.60px;color:#1a1a1a">3</div>
<div class="t" style="left:72.26px;top:163.60px;color:#1a1a1a">3</div>
<div class="t" style="left:84.98px;top:163.60px;color:#1a1a1a">4</div>
<div class="t" style="left:33.00px;top:176.08px;color:#1a1a1a">1</div>
<div class="t" style="left:45.72px;top:176.08px;color:#1a1a1a">2</div>
<div class="t" style="left:59.44px;top:176.08px;color:#1a1a1a">2</div>
<div class="t" style="left:72.26px;top:176.08px;color:#1a1a1a">2</div>
<div class="t" style="left:84.98px;top:176.08px;color:#1a1a1a">3</div>
<div class="t" style="left:33.00px;top:188.55px;color:#1a1a1a">1</div>
<div class="t" style="left:45.72px;top:188.55px;color:#1a1a1a">1</div>
<div class="t" style="left:59.44px;top:188.55px;color:#1a1a1a">1</div>
<div class="t" style="left:72.26px;top:188.55px;color:#1a1a1a">1</div>
<div class="t" style="left:84.98px;top:188.55px;color:#1a1a1a">2</div>
<div class="t" style="left:33.00px;top:201.03px;color:#1a1a1a">1</div>
<div class="t" style="left:45.72px;top:201.03px;color:#1a1a1a">1</div>
<div class="t" style="left:59.44px;top:201.03px;color:#1a1a1a">1</div>
<div class="t" style="left:72.26px;top:201.03px;color:#1a1a1a">1</div>
<div class="t" style="left:84.98px;top:201.03px;color:#1a1a1a">1</div>
<div class="c" style="left:107.10px;top:162.80px;width:13.22px;height:12.78px;background:#f59900"></div>
<div class="c" style="left:120.02px;top:162.80px;width:13.22px;height:12.78px;background:#e6011b"></div>
<div class="c" style="left:132.94px;top:162.80px;width:13.22px;height:12.78px;background:#e6011b"></div>
<div class="c" style="left:145.86px;top:162.80px;width:13.22px;height:12.78px;background:#e6011b"></div>
<div class="c" style="left:158.78px;top:162.80px;width:12.92px;height:12.78px;background:#e6011b"></div>
<div class="c" style="left:107.10px;top:175.28px;width:13.22px;height:12.78px;background:#f59900"></div>
<div class="c" style="left:120.02px;top:175.28px;width:13.22px;height:12.78px;background:#f59900"></div>
<div class="c" style="left:132.94px;top:175.28px;width:13.22px;height:12.78px;background:#f59900"></div>
<div class="c" style="left:145.86px;top:175.28px;width:13.22px;height:12.78px;background:#f59900"></div>
<div class="c" style="left:158.78px;top:175.28px;width:12.92px;height:12.78px;background:#e6011b"></div>
<div class="c" style="left:107.10px;top:187.75px;width:13.22px;height:12.78px;background:#fff000"></div>
<div class="c" style="left:120.02px;top:187.75px;width:13.22px;height:12.78px;background:#fff000"></div>
<div class="c" style="left:132.94px;top:187.75px;width:13.22px;height:12.78px;background:#fff000"></div>
<div class="c" style="left:145.86px;top:187.75px;width:13.22px;height:12.78px;background:#f59900"></div>
<div class="c" style="left:158.78px;top:187.75px;width:12.92px;height:12.78px;background:#f59900"></div>
<div class="c" style="left:107.10px;top:200.23px;width:13.22px;height:12.47px;background:#87bd1b"></div>
<div class="c" style="left:120.02px;top:200.23px;width:13.22px;height:12.47px;background:#87bd1b"></div>
<div class="c" style="left:132.94px;top:200.23px;width:13.22px;height:12.47px;background:#fff000"></div>
<div class="c" style="left:145.86px;top:200.23px;width:13.22px;height:12.47px;background:#fff000"></div>
<div class="c" style="left:158.78px;top:200.23px;width:12.92px;height:12.47px;background:#fff000"></div>
<div class="t" style="left:105.50px;top:163.60px;color:#1a1a1a">4</div>
<div class="t" style="left:118.22px;top:163.60px;color:#1a1a1a">5</div>
<div class="t" style="left:131.94px;top:163.60px;color:#1a1a1a">5</div>
<div class="t" style="left:144.76px;top:163.60px;color:#1a1a1a">6</div>
<div class="t" style="left:157.48px;top:163.60px;color:#1a1a1a">7</div>
<div class="t" style="left:105.50px;top:176.08px;color:#1a1a1a">3</div>
<div class="t" style="left:118.22px;top:176.08px;color:#1a1a1a">3</div>
<div class="t" style="left:131.94px;top:176.08px;color:#1a1a1a">4</div>
<div class="t" style="left:144.76px;top:176.08px;color:#1a1a1a">4</div>
<div class="t" style="left:157.48px;top:176.08px;color:#1a1a1a">5</div>
<div class="t" style="left:105.50px;top:188.55px;color:#1a1a1a">2</div>
<div class="t" style="left:118.22px;top:188.55px;color:#1a1a1a">2</div>
<div class="t" style="left:131.94px;top:188.55px;color:#1a1a1a">2</div>
<div class="t" style="left:144.76px;top:188.55px;color:#1a1a1a">3</div>
<div class="t" style="left:157.48px;top:188.55px;color:#1a1a1a">3</div>
<div class="t" style="left:105.50px;top:201.03px;color:#1a1a1a">1</div>
<div class="t" style="left:118.22px;top:201.03px;color:#1a1a1a">1</div>
<div class="t" style="left:131.94px;top:201.03px;color:#1a1a1a">2</div>
<div class="t" style="left:144.76px;top:201.03px;color:#1a1a1a">2</div>
<div class="t" style="left:157.48px;top:201.03px;color:#1a1a1a">2</div>
<div class="c" style="left:207.40px;top:162.80px;width:13.22px;height:12.78px;background:#e6011b"></div>
<div class="c" style="left:220.32px;top:162.80px;width:13.22px;height:12.78px;background:#e6011b"></div>
<div class="c" style="left:233.24px;top:162.80px;width:13.22px;height:12.78px;background:#e6011b"></div>
<div class="c" style="left:246.16px;top:162.80px;width:13.22px;height:12.78px;background:#cb0a1e"></div>
<div class="c" style="left:259.08px;top:162.80px;width:12.92px;height:12.78px;background:#cb0a1e"></div>
<div class="c" style="left:207.40px;top:175.28px;width:13.22px;height:12.78px;background:#f59900"></div>
<div class="c" style="left:220.32px;top:175.28px;width:13.22px;height:12.78px;background:#e6011b"></div>
<div class="c" style="left:233.24px;top:175.28px;width:13.22px;height:12.78px;background:#e6011b"></div>
<div class="c" style="left:246.16px;top:175.28px;width:13.22px;height:12.78px;background:#e6011b"></div>
<div class="c" style="left:259.08px;top:175.28px;width:12.92px;height:12.78px;background:#e6011b"></div>
<div class="c" style="left:207.40px;top:187.75px;width:13.22px;height:12.78px;background:#f59900"></div>
<div class="c" style="left:220.32px;top:187.75px;width:13.22px;height:12.78px;background:#f59900"></div>
<div class="c" style="left:233.24px;top:187.75px;width:13.22px;height:12.78px;background:#f59900"></div>
<div class="c" style="left:246.16px;top:187.75px;width:13.22px;height:12.78px;background:#e6011b"></div>
<div class="c" style="left:259.08px;top:187.75px;width:12.92px;height:12.78px;background:#e6011b"></div>
<div class="c" style="left:207.40px;top:200.23px;width:13.22px;height:12.47px;background:#fff000"></div>
<div class="c" style="left:220.32px;top:200.23px;width:13.22px;height:12.47px;background:#fff000"></div>
<div class="c" style="left:233.24px;top:200.23px;width:13.22px;height:12.47px;background:#f59900"></div>
<div class="c" style="left:246.16px;top:200.23px;width:13.22px;height:12.47px;background:#f59900"></div>
<div class="c" style="left:259.08px;top:200.23px;width:12.92px;height:12.47px;background:#f59900"></div>
<div class="t" style="left:205.90px;top:163.60px;color:#1a1a1a">6</div>
<div class="t" style="left:218.62px;top:163.60px;color:#1a1a1a">7</div>
<div class="t" style="left:232.34px;top:163.60px;color:#1a1a1a">8</div>
<div class="t" style="left:245.66px;top:163.60px;color:#fff8f0;font-weight:normal;-webkit-text-stroke:0.15px #fff8f0">10</div>
<div class="t" style="left:258.38px;top:163.60px;color:#fff8f0;font-weight:normal;-webkit-text-stroke:0.15px #fff8f0">12</div>
<div class="t" style="left:205.90px;top:176.08px;color:#1a1a1a">4</div>
<div class="t" style="left:218.62px;top:176.08px;color:#1a1a1a">5</div>
<div class="t" style="left:232.34px;top:176.08px;color:#1a1a1a">6</div>
<div class="t" style="left:245.16px;top:176.08px;color:#1a1a1a">7</div>
<div class="t" style="left:257.88px;top:176.08px;color:#1a1a1a">8</div>
<div class="t" style="left:205.90px;top:188.55px;color:#1a1a1a">3</div>
<div class="t" style="left:218.62px;top:188.55px;color:#1a1a1a">3</div>
<div class="t" style="left:232.34px;top:188.55px;color:#1a1a1a">4</div>
<div class="t" style="left:245.16px;top:188.55px;color:#1a1a1a">5</div>
<div class="t" style="left:257.88px;top:188.55px;color:#1a1a1a">6</div>
<div class="t" style="left:205.90px;top:201.03px;color:#1a1a1a">2</div>
<div class="t" style="left:218.62px;top:201.03px;color:#1a1a1a">2</div>
<div class="t" style="left:232.34px;top:201.03px;color:#1a1a1a">3</div>
<div class="t" style="left:245.16px;top:201.03px;color:#1a1a1a">3</div>
<div class="t" style="left:257.88px;top:201.03px;color:#1a1a1a">4</div>
<div class="c" style="left:280.00px;top:162.80px;width:13.22px;height:12.78px;background:#cb0a1e"></div>
<div class="c" style="left:292.92px;top:162.80px;width:13.22px;height:12.78px;background:#cb0a1e"></div>
<div class="c" style="left:305.84px;top:162.80px;width:13.22px;height:12.78px;background:#a60e1f"></div>
<div class="c" style="left:318.76px;top:162.80px;width:13.22px;height:12.78px;background:#a60e1f"></div>
<div class="c" style="left:331.68px;top:162.80px;width:12.92px;height:12.78px;background:#a60e1f"></div>
<div class="c" style="left:280.00px;top:175.28px;width:13.22px;height:12.78px;background:#e6011b"></div>
<div class="c" style="left:292.92px;top:175.28px;width:13.22px;height:12.78px;background:#e6011b"></div>
<div class="c" style="left:305.84px;top:175.28px;width:13.22px;height:12.78px;background:#cb0a1e"></div>
<div class="c" style="left:318.76px;top:175.28px;width:13.22px;height:12.78px;background:#cb0a1e"></div>
<div class="c" style="left:331.68px;top:175.28px;width:12.92px;height:12.78px;background:#a60e1f"></div>
<div class="c" style="left:280.00px;top:187.75px;width:13.22px;height:12.78px;background:#e6011b"></div>
<div class="c" style="left:292.92px;top:187.75px;width:13.22px;height:12.78px;background:#e6011b"></div>
<div class="c" style="left:305.84px;top:187.75px;width:13.22px;height:12.78px;background:#e6011b"></div>
<div class="c" style="left:318.76px;top:187.75px;width:13.22px;height:12.78px;background:#e6011b"></div>
<div class="c" style="left:331.68px;top:187.75px;width:12.92px;height:12.78px;background:#cb0a1e"></div>
<div class="c" style="left:280.00px;top:200.23px;width:13.22px;height:12.47px;background:#f59900"></div>
<div class="c" style="left:292.92px;top:200.23px;width:13.22px;height:12.47px;background:#f59900"></div>
<div class="c" style="left:305.84px;top:200.23px;width:13.22px;height:12.47px;background:#e6011b"></div>
<div class="c" style="left:318.76px;top:200.23px;width:13.22px;height:12.47px;background:#e6011b"></div>
<div class="c" style="left:331.68px;top:200.23px;width:12.92px;height:12.47px;background:#e6011b"></div>
<div class="t" style="left:279.30px;top:163.60px;color:#fff8f0;font-weight:normal;-webkit-text-stroke:0.15px #fff8f0">12</div>
<div class="t" style="left:292.02px;top:163.60px;color:#fff8f0;font-weight:normal;-webkit-text-stroke:0.15px #fff8f0">13</div>
<div class="t" style="left:305.74px;top:163.60px;color:#fff8f0;font-weight:normal;-webkit-text-stroke:0.15px #fff8f0">16</div>
<div class="t" style="left:318.56px;top:163.60px;color:#fff8f0;font-weight:normal;-webkit-text-stroke:0.15px #fff8f0">19</div>
<div class="t" style="left:331.28px;top:163.60px;color:#fff8f0;font-weight:normal;-webkit-text-stroke:0.15px #fff8f0">22</div>
<div class="t" style="left:279.10px;top:176.08px;color:#1a1a1a">8</div>
<div class="t" style="left:291.82px;top:176.08px;color:#1a1a1a">9</div>
<div class="t" style="left:305.74px;top:176.08px;color:#fff8f0;font-weight:normal;-webkit-text-stroke:0.15px #fff8f0">11</div>
<div class="t" style="left:318.56px;top:176.08px;color:#fff8f0;font-weight:normal;-webkit-text-stroke:0.15px #fff8f0">13</div>
<div class="t" style="left:331.28px;top:176.08px;color:#fff8f0;font-weight:normal;-webkit-text-stroke:0.15px #fff8f0">16</div>
<div class="t" style="left:279.10px;top:188.55px;color:#1a1a1a">5</div>
<div class="t" style="left:291.82px;top:188.55px;color:#1a1a1a">6</div>
<div class="t" style="left:305.54px;top:188.55px;color:#1a1a1a">8</div>
<div class="t" style="left:318.36px;top:188.55px;color:#1a1a1a">9</div>
<div class="t" style="left:331.28px;top:188.55px;color:#fff8f0;font-weight:normal;-webkit-text-stroke:0.15px #fff8f0">11</div>
<div class="t" style="left:279.10px;top:201.03px;color:#1a1a1a">4</div>
<div class="t" style="left:291.82px;top:201.03px;color:#1a1a1a">4</div>
<div class="t" style="left:305.54px;top:201.03px;color:#1a1a1a">5</div>
<div class="t" style="left:318.36px;top:201.03px;color:#1a1a1a">6</div>
<div class="t" style="left:331.08px;top:201.03px;color:#1a1a1a">8</div>
<div class="bp" style="top:163.50px">180</div>
<div class="bp" style="top:175.97px">160</div>
<div class="bp" style="top:188.45px">140</div>
<div class="bp" style="top:200.93px">120</div>
<div class="age" style="top:188.00px">55</div>
<div class="c" style="left:34.60px;top:224.70px;width:13.22px;height:12.78px;background:#87bd1b"></div>
<div class="c" style="left:47.52px;top:224.70px;width:13.22px;height:12.78px;background:#87bd1b"></div>
<div class="c" style="left:60.44px;top:224.70px;width:13.22px;height:12.78px;background:#87bd1b"></div>
<div class="c" style="left:73.36px;top:224.70px;width:13.22px;height:12.78px;background:#fff000"></div>
<div class="c" style="left:86.28px;top:224.70px;width:12.92px;height:12.78px;background:#fff000"></div>
<div class="c" style="left:34.60px;top:237.17px;width:13.22px;height:12.78px;background:#87bd1b"></div>
<div class="c" style="left:47.52px;top:237.17px;width:13.22px;height:12.78px;background:#87bd1b"></div>
<div class="c" style="left:60.44px;top:237.17px;width:13.22px;height:12.78px;background:#87bd1b"></div>
<div class="c" style="left:73.36px;top:237.17px;width:13.22px;height:12.78px;background:#87bd1b"></div>
<div class="c" style="left:86.28px;top:237.17px;width:12.92px;height:12.78px;background:#87bd1b"></div>
<div class="c" style="left:34.60px;top:249.65px;width:13.22px;height:12.78px;background:#05963b"></div>
<div class="c" style="left:47.52px;top:249.65px;width:13.22px;height:12.78px;background:#87bd1b"></div>
<div class="c" style="left:60.44px;top:249.65px;width:13.22px;height:12.78px;background:#87bd1b"></div>
<div class="c" style="left:73.36px;top:249.65px;width:13.22px;height:12.78px;background:#87bd1b"></div>
<div class="c" style="left:86.28px;top:249.65px;width:12.92px;height:12.78px;background:#87bd1b"></div>
<div class="c" style="left:34.60px;top:262.12px;width:13.22px;height:12.47px;background:#05963b"></div>
<div class="c" style="left:47.52px;top:262.12px;width:13.22px;height:12.47px;background:#05963b"></div>
<div class="c" style="left:60.44px;top:262.12px;width:13.22px;height:12.47px;background:#87bd1b"></div>
<div class="c" style="left:73.36px;top:262.12px;width:13.22px;height:12.47px;background:#87bd1b"></div>
<div class="c" style="left:86.28px;top:262.12px;width:12.92px;height:12.47px;background:#87bd1b"></div>
<div class="t" style="left:33.00px;top:225.50px;color:#1a1a1a">1</div>
<div class="t" style="left:45.72px;top:225.50px;color:#1a1a1a">1</div>
<div class="t" style="left:59.44px;top:225.50px;color:#1a1a1a">1</div>
<div class="t" style="left:72.26px;top:225.50px;color:#1a1a1a">2</div>
<div class="t" style="left:84.98px;top:225.50px;color:#1a1a1a">2</div>
<div class="t" style="left:33.00px;top:237.97px;color:#1a1a1a">1</div>
<div class="t" style="left:45.72px;top:237.97px;color:#1a1a1a">1</div>
<div class="t" style="left:59.44px;top:237.97px;color:#1a1a1a">1</div>
<div class="t" style="left:72.26px;top:237.97px;color:#1a1a1a">1</div>
<div class="t" style="left:84.98px;top:237.97px;color:#1a1a1a">1</div>
<div class="t" style="left:33.00px;top:250.45px;color:#fff8f0;font-weight:normal;-webkit-text-stroke:0.2px #fff8f0">0</div>
<div class="t" style="left:45.72px;top:250.45px;color:#1a1a1a">1</div>
<div class="t" style="left:59.44px;top:250.45px;color:#1a1a1a">1</div>
<div class="t" style="left:72.26px;top:250.45px;color:#1a1a1a">1</div>
<div class="t" style="left:84.98px;top:250.45px;color:#1a1a1a">1</div>
<div class="t" style="left:33.00px;top:262.93px;color:#fff8f0;font-weight:normal;-webkit-text-stroke:0.2px #fff8f0">0</div>
<div class="t" style="left:45.72px;top:262.93px;color:#fff8f0;font-weight:normal;-webkit-text-stroke:0.2px #fff8f0">0</div>
<div class="t" style="left:59.44px;top:262.93px;color:#1a1a1a">1</div>
<div class="t" style="left:72.26px;top:262.93px;color:#1a1a1a">1</div>
<div class="t" style="left:84.98px;top:262.93px;color:#1a1a1a">1</div>
<div class="c" style="left:107.10px;top:224.70px;width:13.22px;height:12.78px;background:#fff000"></div>
<div class="c" style="left:120.02px;top:224.70px;width:13.22px;height:12.78px;background:#fff000"></div>
<div class="c" style="left:132.94px;top:224.70px;width:13.22px;height:12.78px;background:#f59900"></div>
<div class="c" style="left:145.86px;top:224.70px;width:13.22px;height:12.78px;background:#f59900"></div>
<div class="c" style="left:158.78px;top:224.70px;width:12.92px;height:12.78px;background:#f59900"></div>
<div class="c" style="left:107.10px;top:237.17px;width:13.22px;height:12.78px;background:#87bd1b"></div>
<div class="c" style="left:120.02px;top:237.17px;width:13.22px;height:12.78px;background:#fff000"></div>
<div class="c" style="left:132.94px;top:237.17px;width:13.22px;height:12.78px;background:#fff000"></div>
<div class="c" style="left:145.86px;top:237.17px;width:13.22px;height:12.78px;background:#fff000"></div>
<div class="c" style="left:158.78px;top:237.17px;width:12.92px;height:12.78px;background:#f59900"></div>
<div class="c" style="left:107.10px;top:249.65px;width:13.22px;height:12.78px;background:#87bd1b"></div>
<div class="c" style="left:120.02px;top:249.65px;width:13.22px;height:12.78px;background:#87bd1b"></div>
<div class="c" style="left:132.94px;top:249.65px;width:13.22px;height:12.78px;background:#87bd1b"></div>
<div class="c" style="left:145.86px;top:249.65px;width:13.22px;height:12.78px;background:#87bd1b"></div>
<div class="c" style="left:158.78px;top:249.65px;width:12.92px;height:12.78px;background:#fff000"></div>
<div class="c" style="left:107.10px;top:262.12px;width:13.22px;height:12.47px;background:#87bd1b"></div>
<div class="c" style="left:120.02px;top:262.12px;width:13.22px;height:12.47px;background:#87bd1b"></div>
<div class="c" style="left:132.94px;top:262.12px;width:13.22px;height:12.47px;background:#87bd1b"></div>
<div class="c" style="left:145.86px;top:262.12px;width:13.22px;height:12.47px;background:#87bd1b"></div>
<div class="c" style="left:158.78px;top:262.12px;width:12.92px;height:12.47px;background:#87bd1b"></div>
<div class="t" style="left:105.50px;top:225.50px;color:#1a1a1a">2</div>
<div class="t" style="left:118.22px;top:225.50px;color:#1a1a1a">2</div>
<div class="t" style="left:131.94px;top:225.50px;color:#1a1a1a">3</div>
<div class="t" style="left:144.76px;top:225.50px;color:#1a1a1a">3</div>
<div class="t" style="left:157.48px;top:225.50px;color:#1a1a1a">4</div>
<div class="t" style="left:105.50px;top:237.97px;color:#1a1a1a">1</div>
<div class="t" style="left:118.22px;top:237.97px;color:#1a1a1a">2</div>
<div class="t" style="left:131.94px;top:237.97px;color:#1a1a1a">2</div>
<div class="t" style="left:144.76px;top:237.97px;color:#1a1a1a">2</div>
<div class="t" style="left:157.48px;top:237.97px;color:#1a1a1a">3</div>
<div class="t" style="left:105.50px;top:250.45px;color:#1a1a1a">1</div>
<div class="t" style="left:118.22px;top:250.45px;color:#1a1a1a">1</div>
<div class="t" style="left:131.94px;top:250.45px;color:#1a1a1a">1</div>
<div class="t" style="left:144.76px;top:250.45px;color:#1a1a1a">1</div>
<div class="t" style="left:157.48px;top:250.45px;color:#1a1a1a">2</div>
<div class="t" style="left:105.50px;top:262.93px;color:#1a1a1a">1</div>
<div class="t" style="left:118.22px;top:262.93px;color:#1a1a1a">1</div>
<div class="t" style="left:131.94px;top:262.93px;color:#1a1a1a">1</div>
<div class="t" style="left:144.76px;top:262.93px;color:#1a1a1a">1</div>
<div class="t" style="left:157.48px;top:262.93px;color:#1a1a1a">1</div>
<div class="c" style="left:207.40px;top:224.70px;width:13.22px;height:12.78px;background:#f59900"></div>
<div class="c" style="left:220.32px;top:224.70px;width:13.22px;height:12.78px;background:#f59900"></div>
<div class="c" style="left:233.24px;top:224.70px;width:13.22px;height:12.78px;background:#e6011b"></div>
<div class="c" style="left:246.16px;top:224.70px;width:13.22px;height:12.78px;background:#e6011b"></div>
<div class="c" style="left:259.08px;top:224.70px;width:12.92px;height:12.78px;background:#e6011b"></div>
<div class="c" style="left:207.40px;top:237.17px;width:13.22px;height:12.78px;background:#fff000"></div>
<div class="c" style="left:220.32px;top:237.17px;width:13.22px;height:12.78px;background:#f59900"></div>
<div class="c" style="left:233.24px;top:237.17px;width:13.22px;height:12.78px;background:#f59900"></div>
<div class="c" style="left:246.16px;top:237.17px;width:13.22px;height:12.78px;background:#f59900"></div>
<div class="c" style="left:259.08px;top:237.17px;width:12.92px;height:12.78px;background:#e6011b"></div>
<div class="c" style="left:207.40px;top:249.65px;width:13.22px;height:12.78px;background:#fff000"></div>
<div class="c" style="left:220.32px;top:249.65px;width:13.22px;height:12.78px;background:#fff000"></div>
<div class="c" style="left:233.24px;top:249.65px;width:13.22px;height:12.78px;background:#fff000"></div>
<div class="c" style="left:246.16px;top:249.65px;width:13.22px;height:12.78px;background:#f59900"></div>
<div class="c" style="left:259.08px;top:249.65px;width:12.92px;height:12.78px;background:#f59900"></div>
<div class="c" style="left:207.40px;top:262.12px;width:13.22px;height:12.47px;background:#87bd1b"></div>
<div class="c" style="left:220.32px;top:262.12px;width:13.22px;height:12.47px;background:#87bd1b"></div>
<div class="c" style="left:233.24px;top:262.12px;width:13.22px;height:12.47px;background:#fff000"></div>
<div class="c" style="left:246.16px;top:262.12px;width:13.22px;height:12.47px;background:#fff000"></div>
<div class="c" style="left:259.08px;top:262.12px;width:12.92px;height:12.47px;background:#fff000"></div>
<div class="t" style="left:205.90px;top:225.50px;color:#1a1a1a">4</div>
<div class="t" style="left:218.62px;top:225.50px;color:#1a1a1a">4</div>
<div class="t" style="left:232.34px;top:225.50px;color:#1a1a1a">5</div>
<div class="t" style="left:245.16px;top:225.50px;color:#1a1a1a">6</div>
<div class="t" style="left:257.88px;top:225.50px;color:#1a1a1a">7</div>
<div class="t" style="left:205.90px;top:237.97px;color:#1a1a1a">2</div>
<div class="t" style="left:218.62px;top:237.97px;color:#1a1a1a">3</div>
<div class="t" style="left:232.34px;top:237.97px;color:#1a1a1a">3</div>
<div class="t" style="left:245.16px;top:237.97px;color:#1a1a1a">4</div>
<div class="t" style="left:257.88px;top:237.97px;color:#1a1a1a">5</div>
<div class="t" style="left:205.90px;top:250.45px;color:#1a1a1a">2</div>
<div class="t" style="left:218.62px;top:250.45px;color:#1a1a1a">2</div>
<div class="t" style="left:232.34px;top:250.45px;color:#1a1a1a">2</div>
<div class="t" style="left:245.16px;top:250.45px;color:#1a1a1a">3</div>
<div class="t" style="left:257.88px;top:250.45px;color:#1a1a1a">3</div>
<div class="t" style="left:205.90px;top:262.93px;color:#1a1a1a">1</div>
<div class="t" style="left:218.62px;top:262.93px;color:#1a1a1a">1</div>
<div class="t" style="left:232.34px;top:262.93px;color:#1a1a1a">2</div>
<div class="t" style="left:245.16px;top:262.93px;color:#1a1a1a">2</div>
<div class="t" style="left:257.88px;top:262.93px;color:#1a1a1a">2</div>
<div class="c" style="left:280.00px;top:224.70px;width:13.22px;height:12.78px;background:#e6011b"></div>
<div class="c" style="left:292.92px;top:224.70px;width:13.22px;height:12.78px;background:#e6011b"></div>
<div class="c" style="left:305.84px;top:224.70px;width:13.22px;height:12.78px;background:#cb0a1e"></div>
<div class="c" style="left:318.76px;top:224.70px;width:13.22px;height:12.78px;background:#cb0a1e"></div>
<div class="c" style="left:331.68px;top:224.70px;width:12.92px;height:12.78px;background:#cb0a1e"></div>
<div class="c" style="left:280.00px;top:237.17px;width:13.22px;height:12.78px;background:#e6011b"></div>
<div class="c" style="left:292.92px;top:237.17px;width:13.22px;height:12.78px;background:#e6011b"></div>
<div class="c" style="left:305.84px;top:237.17px;width:13.22px;height:12.78px;background:#e6011b"></div>
<div class="c" style="left:318.76px;top:237.17px;width:13.22px;height:12.78px;background:#e6011b"></div>
<div class="c" style="left:331.68px;top:237.17px;width:12.92px;height:12.78px;background:#cb0a1e"></div>
<div class="c" style="left:280.00px;top:249.65px;width:13.22px;height:12.78px;background:#f59900"></div>
<div class="c" style="left:292.92px;top:249.65px;width:13.22px;height:12.78px;background:#f59900"></div>
<div class="c" style="left:305.84px;top:249.65px;width:13.22px;height:12.78px;background:#e6011b"></div>
<div class="c" style="left:318.76px;top:249.65px;width:13.22px;height:12.78px;background:#e6011b"></div>
<div class="c" style="left:331.68px;top:249.65px;width:12.92px;height:12.78px;background:#e6011b"></div>
<div class="c" style="left:280.00px;top:262.12px;width:13.22px;height:12.47px;background:#fff000"></div>
<div class="c" style="left:292.92px;top:262.12px;width:13.22px;height:12.47px;background:#f59900"></div>
<div class="c" style="left:305.84px;top:262.12px;width:13.22px;height:12.47px;background:#f59900"></div>
<div class="c" style="left:318.76px;top:262.12px;width:13.22px;height:12.47px;background:#f59900"></div>
<div class="c" style="left:331.68px;top:262.12px;width:12.92px;height:12.47px;background:#e6011b"></div>
<div class="t" style="left:279.10px;top:225.50px;color:#1a1a1a">7</div>
<div class="t" style="left:291.82px;top:225.50px;color:#1a1a1a">8</div>
<div class="t" style="left:305.74px;top:225.50px;color:#fff8f0;font-weight:normal;-webkit-text-stroke:0.15px #fff8f0">10</div>
<div class="t" style="left:318.56px;top:225.50px;color:#fff8f0;font-weight:normal;-webkit-text-stroke:0.15px #fff8f0">12</div>
<div class="t" style="left:331.28px;top:225.50px;color:#fff8f0;font-weight:normal;-webkit-text-stroke:0.15px #fff8f0">14</div>
<div class="t" style="left:279.10px;top:237.97px;color:#1a1a1a">5</div>
<div class="t" style="left:291.82px;top:237.97px;color:#1a1a1a">6</div>
<div class="t" style="left:305.54px;top:237.97px;color:#1a1a1a">7</div>
<div class="t" style="left:318.36px;top:237.97px;color:#1a1a1a">8</div>
<div class="t" style="left:331.28px;top:237.97px;color:#fff8f0;font-weight:normal;-webkit-text-stroke:0.15px #fff8f0">10</div>
<div class="t" style="left:279.10px;top:250.45px;color:#1a1a1a">3</div>
<div class="t" style="left:291.82px;top:250.45px;color:#1a1a1a">4</div>
<div class="t" style="left:305.54px;top:250.45px;color:#1a1a1a">5</div>
<div class="t" style="left:318.36px;top:250.45px;color:#1a1a1a">6</div>
<div class="t" style="left:331.08px;top:250.45px;color:#1a1a1a">7</div>
<div class="t" style="left:279.10px;top:262.93px;color:#1a1a1a">2</div>
<div class="t" style="left:291.82px;top:262.93px;color:#1a1a1a">3</div>
<div class="t" style="left:305.54px;top:262.93px;color:#1a1a1a">3</div>
<div class="t" style="left:318.36px;top:262.93px;color:#1a1a1a">4</div>
<div class="t" style="left:331.08px;top:262.93px;color:#1a1a1a">5</div>
<div class="bp" style="top:225.40px">180</div>
<div class="bp" style="top:237.87px">160</div>
<div class="bp" style="top:250.35px">140</div>
<div class="bp" style="top:262.82px">120</div>
<div class="age" style="top:249.30px">50</div>
<div class="c" style="left:34.60px;top:287.50px;width:13.22px;height:12.73px;background:#05963b"></div>
<div class="c" style="left:47.52px;top:287.50px;width:13.22px;height:12.73px;background:#05963b"></div>
<div class="c" style="left:60.44px;top:287.50px;width:13.22px;height:12.73px;background:#05963b"></div>
<div class="c" style="left:73.36px;top:287.50px;width:13.22px;height:12.73px;background:#05963b"></div>
<div class="c" style="left:86.28px;top:287.50px;width:12.92px;height:12.73px;background:#05963b"></div>
<div class="c" style="left:34.60px;top:299.93px;width:13.22px;height:12.73px;background:#05963b"></div>
<div class="c" style="left:47.52px;top:299.93px;width:13.22px;height:12.73px;background:#05963b"></div>
<div class="c" style="left:60.44px;top:299.93px;width:13.22px;height:12.73px;background:#05963b"></div>
<div class="c" style="left:73.36px;top:299.93px;width:13.22px;height:12.73px;background:#05963b"></div>
<div class="c" style="left:86.28px;top:299.93px;width:12.92px;height:12.73px;background:#05963b"></div>
<div class="c" style="left:34.60px;top:312.35px;width:13.22px;height:12.73px;background:#05963b"></div>
<div class="c" style="left:47.52px;top:312.35px;width:13.22px;height:12.73px;background:#05963b"></div>
<div class="c" style="left:60.44px;top:312.35px;width:13.22px;height:12.73px;background:#05963b"></div>
<div class="c" style="left:73.36px;top:312.35px;width:13.22px;height:12.73px;background:#05963b"></div>
<div class="c" style="left:86.28px;top:312.35px;width:12.92px;height:12.73px;background:#05963b"></div>
<div class="c" style="left:34.60px;top:324.77px;width:13.22px;height:12.43px;background:#05963b"></div>
<div class="c" style="left:47.52px;top:324.77px;width:13.22px;height:12.43px;background:#05963b"></div>
<div class="c" style="left:60.44px;top:324.77px;width:13.22px;height:12.43px;background:#05963b"></div>
<div class="c" style="left:73.36px;top:324.77px;width:13.22px;height:12.43px;background:#05963b"></div>
<div class="c" style="left:86.28px;top:324.77px;width:12.92px;height:12.43px;background:#05963b"></div>
<div class="t" style="left:33.00px;top:288.30px;color:#fff8f0;font-weight:normal;-webkit-text-stroke:0.2px #fff8f0">0</div>
<div class="t" style="left:45.72px;top:288.30px;color:#fff8f0;font-weight:normal;-webkit-text-stroke:0.2px #fff8f0">0</div>
<div class="t" style="left:59.44px;top:288.30px;color:#fff8f0;font-weight:normal;-webkit-text-stroke:0.2px #fff8f0">0</div>
<div class="t" style="left:72.26px;top:288.30px;color:#fff8f0;font-weight:normal;-webkit-text-stroke:0.2px #fff8f0">0</div>
<div class="t" style="left:84.98px;top:288.30px;color:#fff8f0;font-weight:normal;-webkit-text-stroke:0.2px #fff8f0">0</div>
<div class="t" style="left:33.00px;top:300.73px;color:#fff8f0;font-weight:normal;-webkit-text-stroke:0.2px #fff8f0">0</div>
<div class="t" style="left:45.72px;top:300.73px;color:#fff8f0;font-weight:normal;-webkit-text-stroke:0.2px #fff8f0">0</div>
<div class="t" style="left:59.44px;top:300.73px;color:#fff8f0;font-weight:normal;-webkit-text-stroke:0.2px #fff8f0">0</div>
<div class="t" style="left:72.26px;top:300.73px;color:#fff8f0;font-weight:normal;-webkit-text-stroke:0.2px #fff8f0">0</div>
<div class="t" style="left:84.98px;top:300.73px;color:#fff8f0;font-weight:normal;-webkit-text-stroke:0.2px #fff8f0">0</div>
<div class="t" style="left:33.00px;top:313.15px;color:#fff8f0;font-weight:normal;-webkit-text-stroke:0.2px #fff8f0">0</div>
<div class="t" style="left:45.72px;top:313.15px;color:#fff8f0;font-weight:normal;-webkit-text-stroke:0.2px #fff8f0">0</div>
<div class="t" style="left:59.44px;top:313.15px;color:#fff8f0;font-weight:normal;-webkit-text-stroke:0.2px #fff8f0">0</div>
<div class="t" style="left:72.26px;top:313.15px;color:#fff8f0;font-weight:normal;-webkit-text-stroke:0.2px #fff8f0">0</div>
<div class="t" style="left:84.98px;top:313.15px;color:#fff8f0;font-weight:normal;-webkit-text-stroke:0.2px #fff8f0">0</div>
<div class="t" style="left:33.00px;top:325.57px;color:#fff8f0;font-weight:normal;-webkit-text-stroke:0.2px #fff8f0">0</div>
<div class="t" style="left:45.72px;top:325.57px;color:#fff8f0;font-weight:normal;-webkit-text-stroke:0.2px #fff8f0">0</div>
<div class="t" style="left:59.44px;top:325.57px;color:#fff8f0;font-weight:normal;-webkit-text-stroke:0.2px #fff8f0">0</div>
<div class="t" style="left:72.26px;top:325.57px;color:#fff8f0;font-weight:normal;-webkit-text-stroke:0.2px #fff8f0">0</div>
<div class="t" style="left:84.98px;top:325.57px;color:#fff8f0;font-weight:normal;-webkit-text-stroke:0.2px #fff8f0">0</div>
<div class="c" style="left:107.10px;top:287.50px;width:13.22px;height:12.73px;background:#05963b"></div>
<div class="c" style="left:120.02px;top:287.50px;width:13.22px;height:12.73px;background:#05963b"></div>
<div class="c" style="left:132.94px;top:287.50px;width:13.22px;height:12.73px;background:#05963b"></div>
<div class="c" style="left:145.86px;top:287.50px;width:13.22px;height:12.73px;background:#87bd1b"></div>
<div class="c" style="left:158.78px;top:287.50px;width:12.92px;height:12.73px;background:#87bd1b"></div>
<div class="c" style="left:107.10px;top:299.93px;width:13.22px;height:12.73px;background:#05963b"></div>
<div class="c" style="left:120.02px;top:299.93px;width:13.22px;height:12.73px;background:#05963b"></div>
<div class="c" style="left:132.94px;top:299.93px;width:13.22px;height:12.73px;background:#05963b"></div>
<div class="c" style="left:145.86px;top:299.93px;width:13.22px;height:12.73px;background:#05963b"></div>
<div class="c" style="left:158.78px;top:299.93px;width:12.92px;height:12.73px;background:#05963b"></div>
<div class="c" style="left:107.10px;top:312.35px;width:13.22px;height:12.73px;background:#05963b"></div>
<div class="c" style="left:120.02px;top:312.35px;width:13.22px;height:12.73px;background:#05963b"></div>
<div class="c" style="left:132.94px;top:312.35px;width:13.22px;height:12.73px;background:#05963b"></div>
<div class="c" style="left:145.86px;top:312.35px;width:13.22px;height:12.73px;background:#05963b"></div>
<div class="c" style="left:158.78px;top:312.35px;width:12.92px;height:12.73px;background:#05963b"></div>
<div class="c" style="left:107.10px;top:324.77px;width:13.22px;height:12.43px;background:#05963b"></div>
<div class="c" style="left:120.02px;top:324.77px;width:13.22px;height:12.43px;background:#05963b"></div>
<div class="c" style="left:132.94px;top:324.77px;width:13.22px;height:12.43px;background:#05963b"></div>
<div class="c" style="left:145.86px;top:324.77px;width:13.22px;height:12.43px;background:#05963b"></div>
<div class="c" style="left:158.78px;top:324.77px;width:12.92px;height:12.43px;background:#05963b"></div>
<div class="t" style="left:105.50px;top:288.30px;color:#fff8f0;font-weight:normal;-webkit-text-stroke:0.2px #fff8f0">0</div>
<div class="t" style="left:118.22px;top:288.30px;color:#fff8f0;font-weight:normal;-webkit-text-stroke:0.2px #fff8f0">0</div>
<div class="t" style="left:131.94px;top:288.30px;color:#fff8f0;font-weight:normal;-webkit-text-stroke:0.2px #fff8f0">0</div>
<div class="t" style="left:144.76px;top:288.30px;color:#1a1a1a">1</div>
<div class="t" style="left:157.48px;top:288.30px;color:#1a1a1a">1</div>
<div class="t" style="left:105.50px;top:300.73px;color:#fff8f0;font-weight:normal;-webkit-text-stroke:0.2px #fff8f0">0</div>
<div class="t" style="left:118.22px;top:300.73px;color:#fff8f0;font-weight:normal;-webkit-text-stroke:0.2px #fff8f0">0</div>
<div class="t" style="left:131.94px;top:300.73px;color:#fff8f0;font-weight:normal;-webkit-text-stroke:0.2px #fff8f0">0</div>
<div class="t" style="left:144.76px;top:300.73px;color:#fff8f0;font-weight:normal;-webkit-text-stroke:0.2px #fff8f0">0</div>
<div class="t" style="left:157.48px;top:300.73px;color:#fff8f0;font-weight:normal;-webkit-text-stroke:0.2px #fff8f0">0</div>
<div class="t" style="left:105.50px;top:313.15px;color:#fff8f0;font-weight:normal;-webkit-text-stroke:0.2px #fff8f0">0</div>
<div class="t" style="left:118.22px;top:313.15px;color:#fff8f0;font-weight:normal;-webkit-text-stroke:0.2px #fff8f0">0</div>
<div class="t" style="left:131.94px;top:313.15px;color:#fff8f0;font-weight:normal;-webkit-text-stroke:0.2px #fff8f0">0</div>
<div class="t" style="left:144.76px;top:313.15px;color:#fff8f0;font-weight:normal;-webkit-text-stroke:0.2px #fff8f0">0</div>
<div class="t" style="left:157.48px;top:313.15px;color:#fff8f0;font-weight:normal;-webkit-text-stroke:0.2px #fff8f0">0</div>
<div class="t" style="left:105.50px;top:325.57px;color:#fff8f0;font-weight:normal;-webkit-text-stroke:0.2px #fff8f0">0</div>
<div class="t" style="left:118.22px;top:325.57px;color:#fff8f0;font-weight:normal;-webkit-text-stroke:0.2px #fff8f0">0</div>
<div class="t" style="left:131.94px;top:325.57px;color:#fff8f0;font-weight:normal;-webkit-text-stroke:0.2px #fff8f0">0</div>
<div class="t" style="left:144.76px;top:325.57px;color:#fff8f0;font-weight:normal;-webkit-text-stroke:0.2px #fff8f0">0</div>
<div class="t" style="left:157.48px;top:325.57px;color:#fff8f0;font-weight:normal;-webkit-text-stroke:0.2px #fff8f0">0</div>
<div class="c" style="left:207.40px;top:287.50px;width:13.22px;height:12.73px;background:#87bd1b"></div>
<div class="c" style="left:220.32px;top:287.50px;width:13.22px;height:12.73px;background:#87bd1b"></div>
<div class="c" style="left:233.24px;top:287.50px;width:13.22px;height:12.73px;background:#87bd1b"></div>
<div class="c" style="left:246.16px;top:287.50px;width:13.22px;height:12.73px;background:#fff000"></div>
<div class="c" style="left:259.08px;top:287.50px;width:12.92px;height:12.73px;background:#fff000"></div>
<div class="c" style="left:207.40px;top:299.93px;width:13.22px;height:12.73px;background:#87bd1b"></div>
<div class="c" style="left:220.32px;top:299.93px;width:13.22px;height:12.73px;background:#87bd1b"></div>
<div class="c" style="left:233.24px;top:299.93px;width:13.22px;height:12.73px;background:#87bd1b"></div>
<div class="c" style="left:246.16px;top:299.93px;width:13.22px;height:12.73px;background:#87bd1b"></div>
<div class="c" style="left:259.08px;top:299.93px;width:12.92px;height:12.73px;background:#87bd1b"></div>
<div class="c" style="left:207.40px;top:312.35px;width:13.22px;height:12.73px;background:#05963b"></div>
<div class="c" style="left:220.32px;top:312.35px;width:13.22px;height:12.73px;background:#87bd1b"></div>
<div class="c" style="left:233.24px;top:312.35px;width:13.22px;height:12.73px;background:#87bd1b"></div>
<div class="c" style="left:246.16px;top:312.35px;width:13.22px;height:12.73px;background:#87bd1b"></div>
<div class="c" style="left:259.08px;top:312.35px;width:12.92px;height:12.73px;background:#87bd1b"></div>
<div class="c" style="left:207.40px;top:324.77px;width:13.22px;height:12.43px;background:#05963b"></div>
<div class="c" style="left:220.32px;top:324.77px;width:13.22px;height:12.43px;background:#05963b"></div>
<div class="c" style="left:233.24px;top:324.77px;width:13.22px;height:12.43px;background:#87bd1b"></div>
<div class="c" style="left:246.16px;top:324.77px;width:13.22px;height:12.43px;background:#87bd1b"></div>
<div class="c" style="left:259.08px;top:324.77px;width:12.92px;height:12.43px;background:#87bd1b"></div>
<div class="t" style="left:205.90px;top:288.30px;color:#1a1a1a">1</div>
<div class="t" style="left:218.62px;top:288.30px;color:#1a1a1a">1</div>
<div class="t" style="left:232.34px;top:288.30px;color:#1a1a1a">1</div>
<div class="t" style="left:245.16px;top:288.30px;color:#1a1a1a">2</div>
<div class="t" style="left:257.88px;top:288.30px;color:#1a1a1a">2</div>
<div class="t" style="left:205.90px;top:300.73px;color:#1a1a1a">1</div>
<div class="t" style="left:218.62px;top:300.73px;color:#1a1a1a">1</div>
<div class="t" style="left:232.34px;top:300.73px;color:#1a1a1a">1</div>
<div class="t" style="left:245.16px;top:300.73px;color:#1a1a1a">1</div>
<div class="t" style="left:257.88px;top:300.73px;color:#1a1a1a">1</div>
<div class="t" style="left:205.90px;top:313.15px;color:#fff8f0;font-weight:normal;-webkit-text-stroke:0.2px #fff8f0">0</div>
<div class="t" style="left:218.62px;top:313.15px;color:#1a1a1a">1</div>
<div class="t" style="left:232.34px;top:313.15px;color:#1a1a1a">1</div>
<div class="t" style="left:245.16px;top:313.15px;color:#1a1a1a">1</div>
<div class="t" style="left:257.88px;top:313.15px;color:#1a1a1a">1</div>
<div class="t" style="left:205.90px;top:325.57px;color:#fff8f0;font-weight:normal;-webkit-text-stroke:0.2px #fff8f0">0</div>
<div class="t" style="left:218.62px;top:325.57px;color:#fff8f0;font-weight:normal;-webkit-text-stroke:0.2px #fff8f0">0</div>
<div class="t" style="left:232.34px;top:325.57px;color:#1a1a1a">1</div>
<div class="t" style="left:245.16px;top:325.57px;color:#1a1a1a">1</div>
<div class="t" style="left:257.88px;top:325.57px;color:#1a1a1a">1</div>
<div class="c" style="left:280.00px;top:287.50px;width:13.22px;height:12.73px;background:#fff000"></div>
<div class="c" style="left:292.92px;top:287.50px;width:13.22px;height:12.73px;background:#fff000"></div>
<div class="c" style="left:305.84px;top:287.50px;width:13.22px;height:12.73px;background:#f59900"></div>
<div class="c" style="left:318.76px;top:287.50px;width:13.22px;height:12.73px;background:#f59900"></div>
<div class="c" style="left:331.68px;top:287.50px;width:12.92px;height:12.73px;background:#f59900"></div>
<div class="c" style="left:280.00px;top:299.93px;width:13.22px;height:12.73px;background:#87bd1b"></div>
<div class="c" style="left:292.92px;top:299.93px;width:13.22px;height:12.73px;background:#fff000"></div>
<div class="c" style="left:305.84px;top:299.93px;width:13.22px;height:12.73px;background:#fff000"></div>
<div class="c" style="left:318.76px;top:299.93px;width:13.22px;height:12.73px;background:#fff000"></div>
<div class="c" style="left:331.68px;top:299.93px;width:12.92px;height:12.73px;background:#f59900"></div>
<div class="c" style="left:280.00px;top:312.35px;width:13.22px;height:12.73px;background:#87bd1b"></div>
<div class="c" style="left:292.92px;top:312.35px;width:13.22px;height:12.73px;background:#87bd1b"></div>
<div class="c" style="left:305.84px;top:312.35px;width:13.22px;height:12.73px;background:#87bd1b"></div>
<div class="c" style="left:318.76px;top:312.35px;width:13.22px;height:12.73px;background:#fff000"></div>
<div class="c" style="left:331.68px;top:312.35px;width:12.92px;height:12.73px;background:#fff000"></div>
<div class="c" style="left:280.00px;top:324.77px;width:13.22px;height:12.43px;background:#87bd1b"></div>
<div class="c" style="left:292.92px;top:324.77px;width:13.22px;height:12.43px;background:#87bd1b"></div>
<div class="c" style="left:305.84px;top:324.77px;width:13.22px;height:12.43px;background:#87bd1b"></div>
<div class="c" style="left:318.76px;top:324.77px;width:13.22px;height:12.43px;background:#87bd1b"></div>
<div class="c" style="left:331.68px;top:324.77px;width:12.92px;height:12.43px;background:#87bd1b"></div>
<div class="t" style="left:279.10px;top:288.30px;color:#1a1a1a">2</div>
<div class="t" style="left:291.82px;top:288.30px;color:#1a1a1a">2</div>
<div class="t" style="left:305.54px;top:288.30px;color:#1a1a1a">3</div>
<div class="t" style="left:318.36px;top:288.30px;color:#1a1a1a">3</div>
<div class="t" style="left:331.08px;top:288.30px;color:#1a1a1a">4</div>
<div class="t" style="left:279.10px;top:300.73px;color:#1a1a1a">1</div>
<div class="t" style="left:291.82px;top:300.73px;color:#1a1a1a">2</div>
<div class="t" style="left:305.54px;top:300.73px;color:#1a1a1a">2</div>
<div class="t" style="left:318.36px;top:300.73px;color:#1a1a1a">2</div>
<div class="t" style="left:331.08px;top:300.73px;color:#1a1a1a">3</div>
<div class="t" style="left:279.10px;top:313.15px;color:#1a1a1a">1</div>
<div class="t" style="left:291.82px;top:313.15px;color:#1a1a1a">1</div>
<div class="t" style="left:305.54px;top:313.15px;color:#1a1a1a">1</div>
<div class="t" style="left:318.36px;top:313.15px;color:#1a1a1a">2</div>
<div class="t" style="left:331.08px;top:313.15px;color:#1a1a1a">2</div>
<div class="t" style="left:279.10px;top:325.57px;color:#1a1a1a">1</div>
<div class="t" style="left:291.82px;top:325.57px;color:#1a1a1a">1</div>
<div class="t" style="left:305.54px;top:325.57px;color:#1a1a1a">1</div>
<div class="t" style="left:318.36px;top:325.57px;color:#1a1a1a">1</div>
<div class="t" style="left:331.08px;top:325.57px;color:#1a1a1a">1</div>
<div class="bp" style="top:288.20px">180</div>
<div class="bp" style="top:300.62px">160</div>
<div class="bp" style="top:313.05px">140</div>
<div class="bp" style="top:325.47px">120</div>
<div class="age" style="top:314.00px">40</div>
<div class="ch" style="left:33.90px">4</div>
<div class="ch" style="left:46.62px">5</div>
<div class="ch" style="left:60.34px">6</div>
<div class="ch" style="left:73.16px">7</div>
<div class="ch" style="left:85.88px">8</div>
<div class="ch" style="left:106.40px">4</div>
<div class="ch" style="left:119.12px">5</div>
<div class="ch" style="left:132.84px">6</div>
<div class="ch" style="left:145.66px">7</div>
<div class="ch" style="left:158.38px">8</div>
<div class="ch" style="left:206.70px">4</div>
<div class="ch" style="left:219.42px">5</div>
<div class="ch" style="left:233.14px">6</div>
<div class="ch" style="left:245.96px">7</div>
<div class="ch" style="left:258.68px">8</div>
<div class="ch" style="left:279.30px">4</div>
<div class="ch" style="left:292.02px">5</div>
<div class="ch" style="left:305.74px">6</div>
<div class="ch" style="left:318.56px">7</div>
<div class="ch" style="left:331.28px">8</div>

<div class="box" style="left:1.2px;top:207px;width:11.8px;height:128.5px;"></div>
<div class="ylab">Systolic blood pressure (mmHg)</div>
<div class="box" style="left:145.2px;top:355.2px;width:94.2px;height:12.4px;"></div>
<div class="chol">Cholesterol (mmol/L)</div>
<div style="position:absolute;left:284px;top:351.4px;width:55.6px;height:1.3px;background:#e8302c"></div>
<div class="tick" style="left:293.6px"></div>
<div class="tick" style="left:306.2px"></div>
<div class="tick" style="left:318.8px"></div>
<div class="tick" style="left:331.4px"></div>
<div class="mg" style="left:284.4px">150</div>
<div class="mg" style="left:297.6px">200</div>
<div class="mg" style="left:310.8px">250</div>
<div class="mg" style="left:324.0px">300</div>
<div class="mgdl">mg/dL</div>
<div class="copy">&copy; 2007 ESC</div>
<svg style="position:absolute;left:0;top:0" width="440" height="381">
<g font-family="Liberation Sans" font-size="17.6" fill="#111" stroke="#111" stroke-width="0.5">
<text transform="translate(379.1,163.4) scale(0.75,1)">S</text>
<text transform="translate(388.3,163.4) scale(0.74,1)">C</text>
<text transform="translate(412.9,163.4) scale(0.82,1)">R</text>
<text transform="translate(424.5,163.4) scale(0.84,1)">E</text>
</g>
<circle cx="406.3" cy="157.2" r="6" fill="none" stroke="#111" stroke-width="2"/>
<line x1="406.4" y1="147.5" x2="406.4" y2="167.2" stroke="#111" stroke-width="1.3"/>
<line x1="397.3" y1="157.5" x2="414.7" y2="157.5" stroke="#111" stroke-width="1.2"/>
</svg>
<div class="box" style="left:372.4px;top:168.8px;width:66.8px;height:73.3px;"></div>
<div class="sw" style="top:169.8px;background:#a60e1f"></div>
<div class="sw" style="top:179.9px;background:#cb0a1e"></div>
<div class="sw" style="top:190.0px;background:#e6011b"></div>
<div class="sw" style="top:200.1px;background:#f59900"></div>
<div class="sw" style="top:210.3px;background:#fff000"></div>
<div class="sw" style="top:220.4px;background:#87bd1b"></div>
<div class="sw" style="top:230.5px;height:10.3px;background:#05963b"></div>
<div class="lg" style="top:169.8px">15% and over</div>
<div class="lg" style="top:179.9px">10%&thinsp;&ndash;&#8202;14%</div>
<div class="lg" style="top:190.0px">5%&thinsp;&ndash;&thinsp;9%</div>
<div class="lg" style="top:200.1px">3%&thinsp;&ndash;&thinsp;4%</div>
<div class="lg" style="top:210.3px">2%</div>
<div class="lg" style="top:220.4px">1%</div>
<div class="lg" style="top:230.5px">&lt; 1%</div>
<div class="box info" style="left:372px;top:255px;width:60.4px;height:64px;">10-year risk of<br>fatal CVD in<br>populations at<br><b>high CVD risk</b></div>
</body></html>
